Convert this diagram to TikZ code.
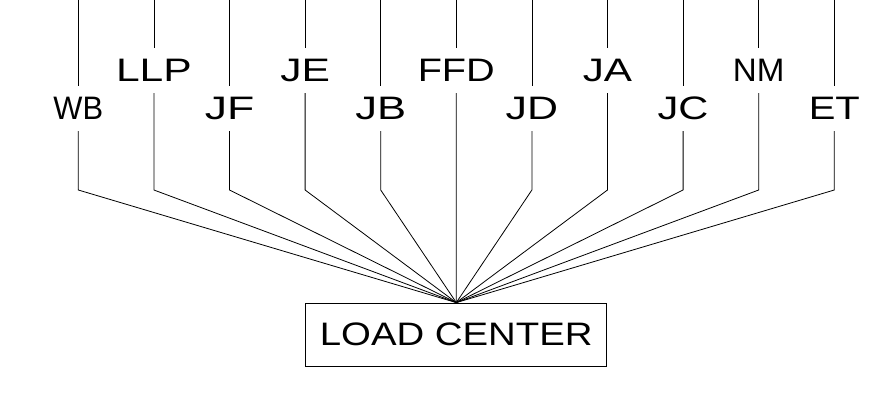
\documentclass[tikz,border=0pt]{standalone}
\usepackage{fontspec}
\setmainfont{Liberation Sans}
\usepackage{graphicx}
\tikzset{
  wire/.style={line width=0.8pt, black},
  lab/.style={inner sep=0pt, minimum height=45pt, font=\fontsize{32.5}{36}\selectfont},
  lcbox/.style={draw, line width=0.8pt, minimum width=301pt, minimum height=63pt, inner sep=0pt, font=\fontsize{32.5}{36}\selectfont}
}
\begin{document}
\begin{tikzpicture}[x=1pt,y=-1pt]
\useasboundingbox[fill=white] (0,0) rectangle (881,403);
\node[lcbox] (lc) at (456.3,334.5) {\scalebox{1.18}[1]{LOAD CENTER}};
\foreach \i/\t/\s/\yy in {0/WB/0.95/108.5,1/LLP/1.31/70.5,2/JF/1.37/108.5,3/JE/1.31/70.5,4/JB/1.34/108.5,5/FFD/1.22/70.5,6/JD/1.32/108.5,7/JA/1.3/70.5,8/JC/1.28/108.5,9/NM/1.02/70.5,10/ET/1.23/108.5}{
  \pgfmathsetmacro\xx{78.3+75.6*\i}
  \coordinate (top\i) at (\xx,0);
  \coordinate (bend\i) at (\xx,190);
  \node[lab] (n\i) at (\xx,\yy) {\scalebox{\s}[1]{\t}};
  \draw[wire] (top\i) -- (n\i.north);
  \draw[wire] (n\i.south) -- (bend\i) -- (lc.north);
}
\end{tikzpicture}
\end{document}
